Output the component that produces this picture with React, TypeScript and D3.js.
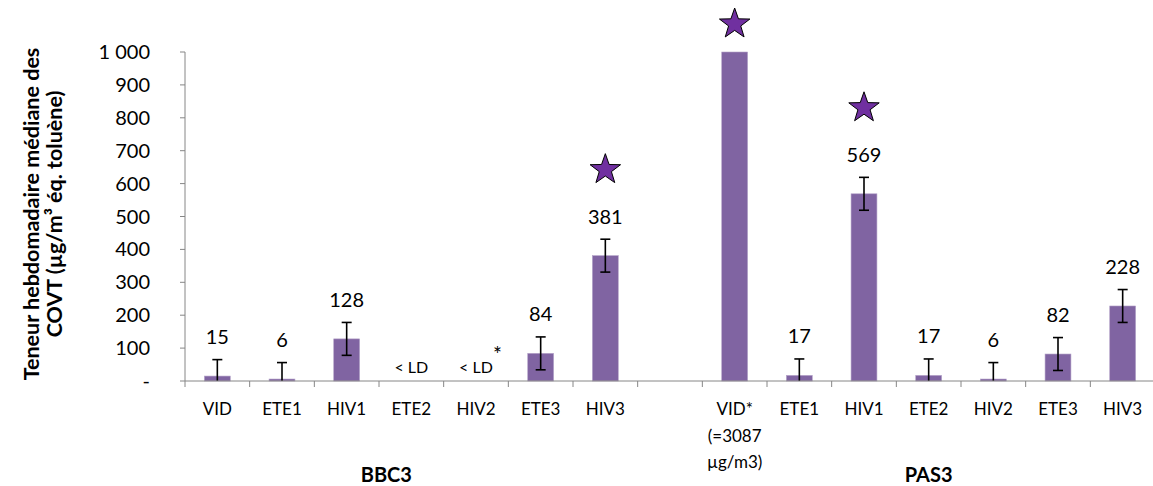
import React from "react";
import * as d3 from "d3";

const categories = ["VID", "ETE1", "HIV1", "ETE2", "HIV2", "ETE3", "HIV3", "", "VID*", "ETE1", "HIV1", "ETE2", "HIV2", "ETE3", "HIV3"];
const categoryNotes = ["", "", "", "", "", "", "", "", "(=3087|µg/m3)", "", "", "", "", "", ""];
const values = [15, 6, 128, 0, 0, 84, 381, null, 1000, 17, 569, 17, 6, 82, 228];
const valueLabels = ["15", "6", "128", "< LD", "< LD", "84", "381", "", "", "17", "569", "17", "6", "82", "228"];
const labelStars = [false, false, false, false, true, false, false, false, false, false, false, false, false, false, false];
const errors = [50, 50, 50, 0, 0, 50, 50, 0, 0, 50, 50, 50, 50, 50, 50];
const stars = [false, false, false, false, false, false, true, false, true, false, true, false, false, false, false];
const groups = ["BBC3", "PAS3"];
const groupStart = [0, 8];
const groupEnd = [6, 14];
const yTicks = [0, 100, 200, 300, 400, 500, 600, 700, 800, 900, 1000];
const yTickLabels = ["-", "100", "200", "300", "400", "500", "600", "700", "800", "900", "1 000"];
const yTitle = ["Teneur hebdomadaire médiane des", "COVT (µg/m³ éq. toluène)"];

const W = 1153;
const H = 486;
const FONT = "Lato, 'Open Sans', sans-serif";
const BAR = "#8064A2";
const STAR = "#7030A0";
const AXIS = "#868686";

function starPath(cx: number, cy: number, R: number) {
  const r = R * 0.4;
  const pts: [number, number][] = [];
  for (let i = 0; i < 10; i++) {
    const a = -Math.PI / 2 + (i * Math.PI) / 5;
    const rr = i % 2 === 0 ? R : r;
    pts.push([cx + rr * Math.cos(a), cy + rr * Math.sin(a)]);
  }
  return d3.line()(pts) + "Z";
}

export default function App() {
  const keys = categories.map((_, i) => String(i));
  const x = d3.scaleBand<string>().domain(keys).range([185, 1155]).paddingInner(0.6).paddingOuter(0.3);
  const y = d3.scaleLinear().domain([0, 1000]).range([381, 52]);
  const step = x.step();
  const x0 = 185;
  const cx = (i: number) => (x(String(i)) as number) + x.bandwidth() / 2;

  return (
    <div style={{ position: "absolute", left: 0, top: 0 }}>
      <style>{`body{margin:0}`}</style>
      <svg width={W} height={H} style={{ display: "block", background: "#fff" }} fontFamily={FONT}>
        {/* y axis */}
        <line x1={x0} x2={x0} y1={y(1000)} y2={y(0)} stroke={AXIS} strokeWidth={1} />
        {yTicks.map((t, i) => (
          <g key={"yt" + i}>
            <line x1={x0 - 5} x2={x0} y1={y(t)} y2={y(t)} stroke={AXIS} />
            <text x={150} y={y(t)} dy="0.35em" textAnchor="end" fontSize={20} fill="#000">
              {yTickLabels[i]}
            </text>
          </g>
        ))}
        {/* y title */}
        <g transform={`translate(31,214) rotate(-90)`}>
          {yTitle.map((t, i) => (
            <text key={"ytl" + i} x={0} y={i * 23} dy="0.35em" textAnchor="middle" fontSize={21.5} fontWeight="bold">
              {t}
            </text>
          ))}
        </g>
        {/* bars */}
        {values.map((v, i) =>
          v == null || v <= 0 ? null : (
            <rect key={"b" + i} x={x(String(i))} y={y(v)} width={x.bandwidth()} height={y(0) - y(v)} fill={BAR} stroke="#B2A1C7" strokeWidth={0.6} />
          )
        )}
        {/* error bars */}
        {values.map((v, i) => {
          if (v == null || !errors[i]) return null;
          const top = y(v + errors[i]);
          const bot = y(Math.max(0, v - errors[i]));
          const c = cx(i);
          const lowCap = v - errors[i] > 0;
          return (
            <g key={"e" + i} stroke="#000" strokeWidth={1.6}>
              <line x1={c} x2={c} y1={top} y2={bot} />
              <line x1={c - 5} x2={c + 5} y1={top} y2={top} />
              {lowCap && <line x1={c - 5} x2={c + 5} y1={bot} y2={bot} />}
            </g>
          );
        })}
        {/* x axis */}
        <line x1={x0} x2={W} y1={y(0)} y2={y(0)} stroke={AXIS} strokeWidth={1} />
        {d3.range(categories.length + 1).map((k) => (
          <line key={"xt" + k} x1={x0 + k * step} x2={x0 + k * step} y1={y(0)} y2={y(0) + 6} stroke={AXIS} />
        ))}
        {/* value labels */}
        {values.map((v, i) => {
          const lab = valueLabels[i];
          if (!lab) return null;
          const isLD = lab.startsWith("<");
          const ly = isLD ? y(0) - 14 : y(v as number) - 39;
          return (
            <g key={"l" + i}>
              <text x={cx(i)} y={ly} dy="0.35em" textAnchor="middle" fontSize={isLD ? 16 : 20}>
                {lab}
              </text>
              {labelStars[i] && (
                <text x={cx(i) + 17} y={ly - 12} dy="0.35em" textAnchor="start" fontSize={21}>
                  *
                </text>
              )}
            </g>
          );
        })}
        {/* stars */}
        {values.map((v, i) => {
          if (!stars[i]) return null;
          const sy = valueLabels[i] ? y(v as number) - 39 - 47 : y(v as number) - 28;
          return <path key={"s" + i} d={starPath(cx(i), sy, 16)} fill={STAR} stroke="#000" strokeWidth={1} />;
        })}
        {/* category labels */}
        {categories.map((c, i) => (
          <g key={"c" + i}>
            <text x={cx(i)} y={409} dy="0.35em" textAnchor="middle" fontSize={17}>
              {c}
            </text>
            {categoryNotes[i] &&
              categoryNotes[i].split("|").map((t, j) => (
                <text key={j} x={cx(i)} y={436 + j * 26} dy="0.35em" textAnchor="middle" fontSize={17}>
                  {t}
                </text>
              ))}
          </g>
        ))}
        {/* group labels */}
        {groups.map((g, gi) => {
          const a = x0 + groupStart[gi] * step;
          const b = x0 + (groupEnd[gi] + 1) * step;
          const gx = gi === 0 ? (a + b) / 2 - 25 : (a + b) / 2;
          return (
            <text key={"g" + gi} x={gx} y={475} dy="0.35em" textAnchor="middle" fontSize={20} fontWeight="bold">
              {g}
            </text>
          );
        })}
      </svg>
    </div>
  );
}
